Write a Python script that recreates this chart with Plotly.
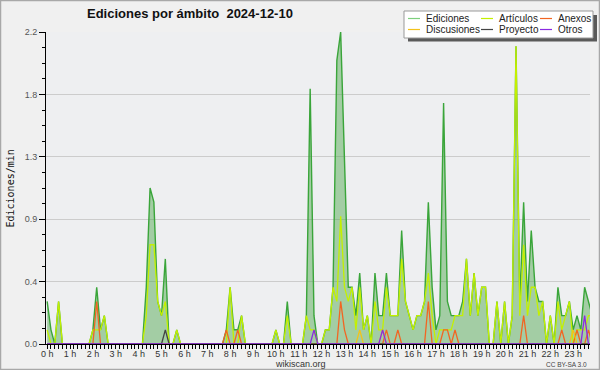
import plotly.graph_objects as go

# ---- data: 10-minute slots (0 .. 143), edits per minute ----
slots = list(range(144))

ediciones = [0.3, 0.1, 0, 0.3, 0, 0, 0, 0, 0, 0, 0, 0,
             0.1, 0.4, 0.1, 0.2, 0, 0, 0, 0, 0, 0, 0, 0,
             0, 0, 0.4, 1.1, 1.0, 0.3, 0.2, 0.6, 0, 0, 0.1, 0,
             0, 0, 0, 0, 0, 0, 0, 0, 0, 0, 0, 0.1,
             0.4, 0.1, 0.1, 0.2, 0, 0, 0, 0, 0, 0, 0, 0,
             0.1, 0, 0, 0.3, 0, 0, 0, 0, 0.2, 1.8, 0.2, 0,
             0, 0.1, 0.1, 0.4, 2.0, 2.2, 1.3, 0.4, 0.4, 0.2, 0.5, 0.1,
             0.2, 0, 0.5, 0.2, 0.2, 0.5, 0.2, 0.2, 0.2, 0.8, 0.3, 0.2,
             0.1, 0.2, 0.2, 0.3, 1.0, 0.4, 0.1, 0.2, 1.7, 0.3, 0.2, 0.2,
             0.2, 0.3, 0.6, 0.2, 0.5, 0.2, 0.4, 0.4, 0, 0, 0.3, 0,
             0.3, 0, 0.2, 2.1, 0.3, 1.0, 0.3, 0.8, 0.4, 0.3, 0.3, 0,
             0.2, 0, 0.4, 0.2, 0.2, 0.3, 0.1, 0.2, 0.1, 0.4, 0.3, 0.2]

articulos = [0.1, 0, 0, 0.3, 0, 0, 0, 0, 0, 0, 0, 0,
             0.1, 0.1, 0.1, 0.2, 0, 0, 0, 0, 0, 0, 0, 0,
             0, 0, 0.2, 0.7, 0.7, 0.3, 0.2, 0.3, 0, 0, 0.1, 0,
             0, 0, 0, 0, 0, 0, 0, 0, 0, 0, 0, 0,
             0.4, 0, 0, 0.2, 0, 0, 0, 0, 0, 0, 0, 0,
             0.1, 0, 0, 0.2, 0, 0, 0, 0, 0.2, 0.1, 0.1, 0,
             0, 0.1, 0.1, 0.4, 0.3, 0.9, 0.4, 0.3, 0.4, 0.1, 0.4, 0.1,
             0.2, 0, 0.3, 0.1, 0.1, 0.4, 0.2, 0.2, 0.2, 0.6, 0.3, 0.2,
             0.1, 0.2, 0.2, 0.3, 0.5, 0.2, 0, 0.1, 0.1, 0.1, 0.1, 0.2,
             0.2, 0.2, 0.6, 0.2, 0.5, 0.2, 0.4, 0.4, 0, 0, 0.3, 0,
             0.3, 0, 0.2, 2.1, 0.2, 0.7, 0.2, 0.4, 0.4, 0.2, 0.3, 0,
             0.2, 0, 0.3, 0.1, 0.2, 0.3, 0, 0.1, 0.1, 0.1, 0.2, 0.2]

anexos = [0] * 144
for s, v in [(13, 0.3), (47, 0.1), (50, 0.1), (77, 0.3), (78, 0.1), (89, 0.1),
             (92, 0.1), (100, 0.3), (104, 0.1), (105, 0.1), (107, 0.1),
             (125, 0.2), (135, 0.1), (139, 0.1), (142, 0.1)]:
    anexos[s] = v

discusiones = [0] * 144
for s, v in [(82, 0.1), (88, 0.1), (138, 0.1)]:
    discusiones[s] = v

proyecto = [0] * 144
for s, v in [(31, 0.1)]:
    proyecto[s] = v

otros = [0] * 144
for s, v in [(70, 0.1), (88, 0.1), (141, 0.2)]:
    otros[s] = v

hour_ticks = [h * 6 for h in range(24)]
hour_labels = [f"{h} h" for h in range(24)]
y_ticks = [0, 0.44, 0.88, 1.32, 1.76, 2.2]
y_labels = ["0.0", "0.4", "0.9", "1.3", "1.8", "2.2"]

series = [
    ("Artículos", articulos, "#c4f000"),
    ("Anexos", anexos, "#f26522"),
    ("Discusiones", discusiones, "#f3c21b"),
    ("Proyecto", proyecto, "#444444"),
    ("Otros", otros, "#8a2be2"),
]

# ---- layout geometry (pixels) ----
W, H = 600, 370
L, R, T, B = 46, 590, 32, 344


def px(x):
    return (x - L) / (R - L)


def py(y):
    return (B - y) / (B - T)


fig = go.Figure()
fig.add_trace(go.Scatter(x=slots, y=ediciones, mode="lines", name="Ediciones",
                         line=dict(color="#3aa53a", width=1.4),
                         fill="tozeroy", fillcolor="rgba(70,165,70,0.45)"))
for name, vals, col in series:
    fig.add_trace(go.Scatter(x=slots, y=vals, mode="lines", name=name,
                             line=dict(color=col, width=1.3)))

FONT = "Liberation Sans"
fig.update_layout(
    width=W, height=H,
    margin=dict(l=L, r=W - R, t=T, b=H - B),
    paper_bgcolor="#f0f0f0", plot_bgcolor="#eeeff1",
    showlegend=False,
    font=dict(family=FONT, size=9, color="#333333"),
)
fig.update_xaxes(
    range=[-0.302, 142.41], showline=True, linecolor="black", linewidth=1,
    ticks="outside", ticklen=4, tickcolor="black", tickwidth=1,
    tickvals=hour_ticks, ticktext=hour_labels, showgrid=False, zeroline=False,
    tickfont=dict(size=9, color="#333333"), ticklabelstandoff=-3,
    minor=dict(ticks="outside", ticklen=4, dtick=1, tick0=0, tickcolor="black", showgrid=False),
)
fig.update_yaxes(
    range=[0, 2.2], showline=True, linecolor="black", linewidth=1,
    ticks="outside", ticklen=6, tickcolor="black",
    tickvals=y_ticks, ticktext=y_labels, showgrid=True, gridcolor="#cccccc",
    zeroline=False, tickfont=dict(size=9, color="#555555"),
    minor=dict(ticks="outside", ticklen=3, dtick=0.11, tick0=0, tickcolor="black", showgrid=False),
)

shapes = []
annotations = []
# outer border
shapes.append(dict(type="rect", xref="paper", yref="paper",
                   x0=px(0.5), x1=px(599.5), y0=py(0.5), y1=py(369.5),
                   line=dict(color="#a8a8a8", width=1.5), layer="below"))
# legend shadow and box
shapes.append(dict(type="rect", xref="paper", yref="paper",
                   x0=px(408), x1=px(597), y0=py(15), y1=py(41.5),
                   line=dict(width=0), fillcolor="#5a5a5a"))
shapes.append(dict(type="rect", xref="paper", yref="paper",
                   x0=px(404), x1=px(593), y0=py(11), y1=py(38),
                   line=dict(color="#999999", width=1), fillcolor="white"))
legend_items = [
    ("Ediciones", "#7dcf7d", 408, 424, 18.5),
    ("Artículos", "#c4f000", 481, 497, 18.5),
    ("Anexos", "#f26522", 540, 556, 18.5),
    ("Discusiones", "#f3c21b", 408, 424, 29.5),
    ("Proyecto", "#444444", 481, 497, 29.5),
    ("Otros", "#8a2be2", 540, 556, 29.5),
]
for name, col, lx, tx, yy in legend_items:
    shapes.append(dict(type="line", xref="paper", yref="paper",
                       x0=px(lx), x1=px(lx + 12), y0=py(yy), y1=py(yy),
                       line=dict(color=col, width=1.2)))
    annotations.append(dict(text=name, xref="paper", yref="paper", x=px(tx), y=py(yy),
                            xanchor="left", yanchor="middle", showarrow=False,
                            font=dict(family=FONT, size=10, color="#222222")))

# title
annotations.append(dict(text="<b>Ediciones por ámbito  2024-12-10</b>", xref="paper", yref="paper",
                        x=px(85), y=py(13.5), xanchor="left", yanchor="middle", showarrow=False,
                        font=dict(family=FONT, size=13, color="#111111")))
# y-axis title
annotations.append(dict(text="Ediciones/min", xref="paper", yref="paper",
                        x=px(10), y=py(188.5), xanchor="center", yanchor="middle",
                        textangle=-90, showarrow=False,
                        font=dict(family="DejaVu Sans Mono", size=10, color="#111111")))
# footer
annotations.append(dict(text="wikiscan.org", xref="paper", yref="paper",
                        x=px(300.5), y=py(363.5), xanchor="center", yanchor="middle",
                        showarrow=False, font=dict(family=FONT, size=9, color="#333333")))
annotations.append(dict(text="CC BY-SA 3.0", xref="paper", yref="paper",
                        x=px(589), y=py(364), xanchor="right", yanchor="middle",
                        showarrow=False, font=dict(family=FONT, size=6.5, color="#444444")))

fig.update_layout(shapes=shapes, annotations=annotations)
fig.write_html("out.html", config={"displayModeBar": False},
               post_script="document.body.style.margin='0';document.body.style.padding='0';"
                           "document.body.style.overflow='hidden';")
